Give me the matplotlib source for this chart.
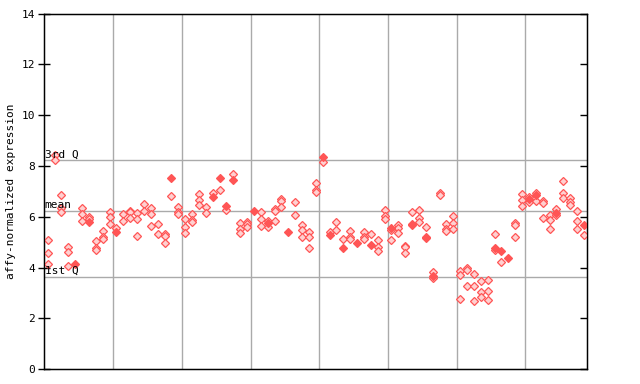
import numpy as np
import matplotlib
matplotlib.use("Agg")
import matplotlib.pyplot as plt

# expression values per sample column (replicates)
values = [
    [5.09, 4.56, 4.13], [8.44, 8.24], [6.85, 6.33, 6.17], [4.80, 4.60, 4.06],
    [4.15], [6.34, 6.11, 5.82], [5.99, 5.90, 5.81], [5.05, 4.76, 4.69],
    [5.44, 5.20, 5.11], [6.19, 5.98, 5.72], [5.56, 5.38], [6.10, 5.84],
    [6.24, 6.18, 5.94], [6.13, 5.93, 5.23], [6.49, 6.22], [6.34, 6.09, 5.63],
    [5.71, 5.32], [5.31, 5.25, 4.97], [7.51, 6.81], [6.40, 6.19, 6.11],
    [5.90, 5.59, 5.35], [6.10, 5.86, 5.78], [6.90, 6.66, 6.48], [6.38, 6.14],
    [6.93, 6.76], [7.51, 7.05], [6.44, 6.26], [7.69, 7.43],
    [5.74, 5.53, 5.35], [5.80, 5.72, 5.61], [6.23], [6.19, 5.90, 5.63],
    [5.84, 5.74, 5.60], [6.32, 6.23, 5.84], [6.70, 6.63, 6.39], [5.38],
    [6.59, 6.06], [5.68, 5.48, 5.19], [5.40, 5.19, 4.76], [7.34, 7.07, 6.99],
    [8.35, 8.14], [5.39, 5.28], [5.78, 5.47], [5.11, 4.75],
    [5.43, 5.19, 5.11], [4.97], [5.39, 5.19, 5.11], [5.31, 4.89],
    [5.07, 4.82, 4.64], [6.26, 6.03, 5.90], [5.57, 5.46, 5.09], [5.67, 5.57, 5.35],
    [4.86, 4.79, 4.56], [6.18, 5.72, 5.67], [6.26, 5.96, 5.78], [5.59, 5.20, 5.15],
    [3.81, 3.65, 3.58], [6.95, 6.85], [5.71, 5.50, 5.42], [6.02, 5.74, 5.53],
    [3.86, 3.69, 2.76], [3.98, 3.90, 3.26], [3.73, 3.26, 2.67], [3.46, 3.04, 2.84],
    [3.51, 3.06, 2.71], [5.31, 4.75, 4.68], [4.67, 4.21], [4.39],
    [5.74, 5.67, 5.19], [6.90, 6.65, 6.44], [6.76, 6.69, 6.59], [6.94, 6.86, 6.63],
    [6.61, 6.55, 5.94], [6.06, 5.86, 5.51], [6.30, 6.14, 6.06], [7.41, 6.94, 6.72],
    [6.74, 6.59, 6.48], [6.23, 5.84, 5.51], [5.69, 5.27],
]

# (column, replicate) drawn as solid markers
filled = [(4, 0), (6, 2), (10, 1), (18, 0), (24, 1), (25, 0), (26, 0), (27, 1),
          (30, 0), (32, 1), (35, 0), (40, 0), (41, 1), (43, 1), (45, 0), (47, 1),
          (50, 0), (53, 1), (55, 1), (56, 1), (65, 1), (66, 0), (67, 0), (70, 1),
          (71, 1), (74, 1), (78, 0)]

q1, mean, q3 = 3.63, 6.22, 8.23
group_lines = [10, 20, 30, 40, 50, 60, 70]
yticks = [0, 2, 4, 6, 8, 10, 12, 14]

red = '#ff5555'
mono = 'DejaVu Sans Mono'

fig = plt.figure(figsize=(6.4, 3.84), dpi=100)
ax = fig.add_axes([0.0692, 0.039, 0.8485, 0.9253])

for g in group_lines:
    ax.axvline(g, color='#aaaaaa', lw=1, zorder=1)
for q in (q1, mean, q3):
    ax.axhline(q, color='#aaaaaa', lw=1, zorder=1)

hx, hy, fx, fy = [], [], [], []
for i, col in enumerate(values):
    for j, v in enumerate(col):
        if (i, j) in filled:
            fx.append(i + 0.5)
            fy.append(v)
        else:
            hx.append(i + 0.5)
            hy.append(v)
ax.plot(hx, hy, 'D', ms=4.0, mfc='#ffd0d0', mec=red, mew=0.9, ls='none', zorder=3)
ax.plot(fx, fy, 'D', ms=4.4, mfc=red, mec=red, mew=0.9, ls='none', zorder=4)

ax.text(0.05, q3 + 0.03, '3rd Q', fontsize=8, family=mono, va='bottom', ha='left', zorder=5)
ax.text(0.05, mean + 0.03, 'mean', fontsize=8, family=mono, va='bottom', ha='left', zorder=5)
ax.text(0.05, q1 + 0.03, '1st Q', fontsize=8, family=mono, va='bottom', ha='left', zorder=5)

ax.set_xlim(0, len(values))
ax.set_ylim(0, 14)
ax.set_xticks([])
ax.set_yticks(yticks)
ax.set_yticklabels([str(t) for t in yticks], family=mono, fontsize=8)
ax.tick_params(axis='y', direction='inout', length=9, width=1, pad=2)
ax.set_ylabel('affy-normalized expression', family=mono, fontsize=8, labelpad=4)
for s in ax.spines.values():
    s.set_linewidth(1)

# inward ticks on the right side
axr = ax.twinx()
axr.set_ylim(0, 14)
axr.set_yticks(yticks)
axr.set_yticklabels([])
axr.tick_params(axis='y', direction='in', length=5, width=1)

fig.savefig('out.png', dpi=100)
